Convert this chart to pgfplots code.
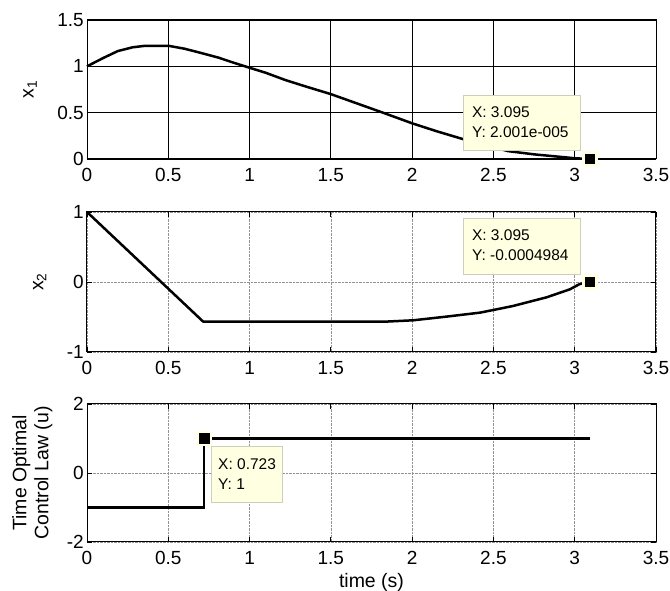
\documentclass[border=0pt]{standalone}
\usepackage{pgfplots}
\pgfplotsset{compat=1.18}
\usepackage{fontspec}
\setmainfont{Liberation Sans}
\definecolor{tipfill}{RGB}{255,255,225}
\definecolor{tipedge}{RGB}{206,206,186}
\tikzset{
  tipbox/.style={draw=tipedge, fill=tipfill, line width=0.8pt},
  tiptext/.style={anchor=north west, inner sep=0pt, align=left,
    font=\fontsize{15.5}{20.6}\selectfont},
}
\begin{document}
\begin{tikzpicture}
\useasboundingbox (0pt,0pt) rectangle (670pt,591pt);
\pgfplotsset{
  panel/.style={
    scale only axis, width=569pt, anchor=south west,
    xmin=0, xmax=3.5,
    xtick={0,0.5,1,1.5,2,2.5,3,3.5},
    xticklabels={0,0.5,1,1.5,2,2.5,3,3.5},
    tick align=inside, major tick length=5pt,
    axis line style={line width=1pt},
    every tick/.style={black, line width=0.8pt},
    ticklabel style={font=\fontsize{19}{21}\selectfont},
    xticklabel style={inner sep=2pt, yshift=-7pt},
    yticklabel style={inner sep=3pt},
    /pgf/number format/assume math mode=true,
    label style={font=\fontsize{19.5}{22}\selectfont},
    clip=false, grid=major,
  },
  dotgrid/.style={major grid style={gray!85, densely dotted, line width=0.7pt}},
  curve/.style={black, line width=2.5pt, line join=round},
  tipmark/.style={only marks, mark=square*, mark size=6.6pt,
    mark options={draw=tipfill, fill=black, line width=2.7pt}},
}

% x1
\begin{axis}[panel, at={(87pt,432pt)}, height=139pt,
  ymin=0, ymax=1.5, ytick={0,0.5,1,1.5}, yticklabels={0,0.5,1,1.5},
  major grid style={black, line width=0.8pt},
  ylabel={x\textsubscript{1}},
  ylabel style={at={(axis description cs:-0.100,0.5)}, anchor=center}]
\addplot[curve] coordinates {
  (0,1.0) (0.1,1.09) (0.19,1.165) (0.28,1.205) (0.36,1.222) (0.5,1.222)
  (0.6,1.19) (0.7,1.145) (0.81,1.093) (0.9,1.04) (0.99,0.99) (1.1,0.93)
  (1.22,0.852) (1.35,0.78) (1.5,0.70) (1.66,0.60) (1.82,0.50) (2.0,0.385)
  (2.15,0.30) (2.31,0.216) (2.45,0.15) (2.59,0.085) (2.75,0.05) (2.93,0.02)
  (3.0,0.008) (3.095,0.0)
};
\draw[tipbox] (axis cs:2.318,0.69) rectangle (axis cs:3.038,0.097);
\node[tiptext] at ([xshift=8pt,yshift=-11pt]axis cs:2.318,0.69) {X: 3.095\\Y: 2.001e-005};
\addplot[tipmark] coordinates {(3.095,0)};
\end{axis}

% x2
\begin{axis}[panel, dotgrid, at={(87pt,239pt)}, height=140pt,
  ymin=-1, ymax=1, ytick={-1,0,1}, yticklabels={-1,0,1},
  ylabel={x\textsubscript{2}},
  ylabel style={at={(axis description cs:-0.083,0.5)}, anchor=center}]
\addplot[curve] coordinates {
  (0,1.0) (0.715,-0.567) (1.0,-0.567) (1.5,-0.567) (1.83,-0.567)
  (2.007,-0.547) (2.21,-0.495) (2.417,-0.438) (2.5,-0.40) (2.62,-0.343)
  (2.827,-0.219) (2.97,-0.105) (3.03,-0.03) (3.095,0.0)
};
\draw[tipbox] (axis cs:2.318,0.914) rectangle (axis cs:3.038,0.114);
\node[tiptext] at ([xshift=8pt,yshift=-11pt]axis cs:2.318,0.914) {X: 3.095\\Y: -0.0004984};
\addplot[tipmark] coordinates {(3.095,0)};
\end{axis}

% u
\begin{axis}[panel, dotgrid, at={(87pt,49pt)}, height=138pt,
  ymin=-2, ymax=2, ytick={-2,0,2}, yticklabels={-2,0,2},
  ylabel={Time Optimal\\Control Law (u)},
  ylabel style={at={(axis description cs:-0.096,0.5)}, anchor=center, align=center},
  xlabel={time (s)},
  xlabel style={at={(axis description cs:0.5,-0.292)}, anchor=center}]
\addplot[curve, line width=2.8pt, line join=miter] coordinates {
  (0,-1) (0.72,-1) (0.72,1) (3.095,1)
};
\addplot[tipmark] coordinates {(0.723,1)};
\draw[tipbox] (axis cs:0.763,0.783) rectangle (axis cs:1.205,-0.84);
\node[tiptext] at ([xshift=7pt,yshift=-12pt]axis cs:0.763,0.783) {X: 0.723\\Y: 1};
\end{axis}
\end{tikzpicture}
\end{document}
